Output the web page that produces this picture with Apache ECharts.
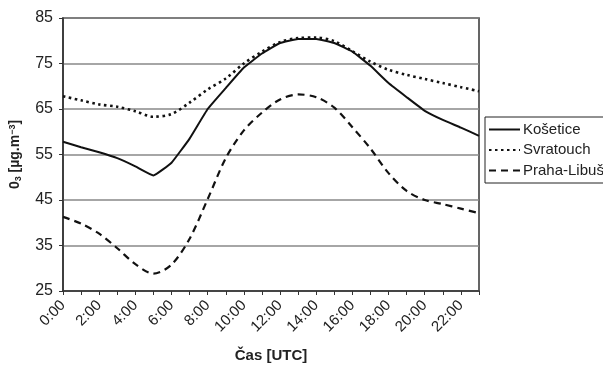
<!DOCTYPE html>
<html>
<head>
<meta charset="utf-8">
<script src="https://cdn.jsdelivr.net/npm/echarts@6/dist/echarts.min.js"></script>
<style>
html,body{margin:0;padding:0;background:#fff;}
#chart{width:603px;height:368px;}
</style>
</head>
<body>
<div id="chart"></div>
<script>
var hours = ['0:00','1:00','2:00','3:00','4:00','5:00','6:00','7:00','8:00','9:00','10:00','11:00',
             '12:00','13:00','14:00','15:00','16:00','17:00','18:00','19:00','20:00','21:00','22:00','23:00'];
var kosetice = [57.8,56.6,55.5,54.2,52.4,50.4,53.2,58.5,65.0,69.6,74.1,77.2,
                79.5,80.4,80.4,79.5,77.6,74.5,70.7,67.6,64.6,62.6,60.9,59.1];
var svratouch = [67.8,66.9,66.0,65.5,64.5,63.3,63.9,66.4,69.3,71.7,75.0,77.6,
                 79.7,80.6,80.7,79.9,77.7,75.4,73.6,72.5,71.6,70.7,69.8,68.9];
var praha = [41.3,39.8,37.6,34.4,30.9,28.8,30.8,36.5,45.2,54.2,60.3,64.2,
             67.1,68.2,67.6,65.3,61.0,56.3,50.9,47.0,45.0,44.1,43.1,42.1];
var seriesNames = ['Košetice','Svratouch','Praha-Libuš'];
var yTicks = [25,35,45,55,65,75,85];

var FONT = '"Liberation Sans", Arial, sans-serif';
var TXT = '#222';
var chart = echarts.init(document.getElementById('chart'), null, {renderer:'canvas'});
chart.setOption({
  animation:false,
  backgroundColor:'#fff',
  textStyle:{fontFamily:FONT},
  grid:{left:61,right:124,top:18,bottom:71,show:true,borderColor:'#333',borderWidth:1.5,backgroundColor:'transparent'},
  legend:{
    orient:'vertical',left:485,top:117,
    data:seriesNames,
    itemWidth:31,itemHeight:14,itemGap:5.5,
    padding:[5,30,5,3],
    borderColor:'#222',borderWidth:1,
    itemStyle:{opacity:0,borderWidth:0},
    textStyle:{fontFamily:FONT,fontSize:15,color:TXT,padding:[0,0,0,-2]}
  },
  xAxis:{
    type:'category',data:hours,boundaryGap:false,
    name:'Čas [UTC]',nameLocation:'middle',nameGap:57,
    nameTextStyle:{fontFamily:FONT,fontSize:15,fontWeight:'bold',color:TXT},
    axisLine:{lineStyle:{color:'#333',width:1.5}},
    axisTick:{show:true,interval:0,length:4,lineStyle:{color:'#333',width:1}},
    axisLabel:{interval:1,rotate:45,margin:12,fontFamily:FONT,fontSize:15,color:TXT},
    splitLine:{show:false}
  },
  yAxis:{
    type:'value',min:yTicks[0],max:yTicks[yTicks.length-1],interval:10,
    name:'0{s|3} [µg.m{p|−3}]',nameLocation:'middle',nameGap:40,nameRotate:90,
    nameTextStyle:{fontFamily:FONT,fontSize:14,fontWeight:'bold',color:TXT,
      rich:{s:{fontSize:9,fontWeight:'bold',fontFamily:FONT,color:TXT,verticalAlign:'bottom',padding:[6,0,0,0]},
            p:{fontSize:9,fontWeight:'bold',fontFamily:FONT,color:TXT,verticalAlign:'top',padding:[0,0,6,0]}}},
    axisLine:{show:true,lineStyle:{color:'#333',width:1.5}},
    axisTick:{show:true,length:4,lineStyle:{color:'#333',width:1}},
    axisLabel:{margin:10,fontFamily:FONT,fontSize:16,color:TXT},
    splitLine:{show:true,lineStyle:{color:'#888',width:1.5}}
  },
  series:[
    {name:seriesNames[0],type:'line',data:kosetice,symbol:'none',smooth:0.1,
     lineStyle:{color:'#111',width:2,type:'solid'},itemStyle:{color:'#111'}},
    {name:seriesNames[1],type:'line',data:svratouch,symbol:'none',smooth:0.3,
     lineStyle:{color:'#111',width:2.6,type:[2.5,3.5]},itemStyle:{color:'#111'}},
    {name:seriesNames[2],type:'line',data:praha,symbol:'none',smooth:0.3,
     lineStyle:{color:'#111',width:2.2,type:[7,5]},itemStyle:{color:'#111'}}
  ]
});
</script>
</body>
</html>
